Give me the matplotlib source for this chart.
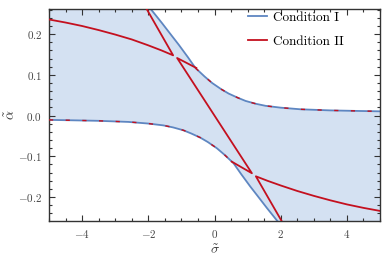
import numpy as np
import matplotlib
matplotlib.use('Agg')
import matplotlib.pyplot as plt
from matplotlib.ticker import MultipleLocator

plt.rcParams['font.family'] = 'serif'
plt.rcParams['font.serif'] = ['cmr10']
plt.rcParams['mathtext.fontset'] = 'cm'
plt.rcParams['axes.unicode_minus'] = False

# Condition I boundary, upper branch (sigma, alpha)
sig_c1_up = [-2.10, -1.94, -1.585, -1.30, -1.08, -0.80, -0.576, -0.30, -0.07, 0.20,
             0.43, 0.70, 0.94, 1.25, 1.545, 2.00, 2.60, 3.50, 4.30, 5.00]
alp_c1_up = [0.279, 0.263, 0.227, 0.197, 0.174, 0.143, 0.117, 0.096, 0.080, 0.065,
             0.054, 0.044, 0.036, 0.029, 0.024, 0.0195, 0.0155, 0.0128, 0.0115, 0.0105]

# Condition I boundary, lower branch
sig_c1_lo = [-5.00, -4.30, -3.50, -2.60, -2.00, -1.545, -1.25, -0.94, -0.70, -0.43,
             -0.20, 0.07, 0.30, 0.576, 0.80, 1.08, 1.30, 1.585, 1.94, 2.10]
alp_c1_lo = [-0.0105, -0.0115, -0.0128, -0.0155, -0.0195, -0.024, -0.029, -0.036, -0.044, -0.054,
             -0.065, -0.080, -0.096, -0.117, -0.143, -0.174, -0.197, -0.227, -0.263, -0.279]

# Condition II, upper-left curve ending in a cusp and going back up
sig_c2_a = [-5.0, -4.5, -4.0, -3.5, -3.0, -2.5, -2.0, -1.6, -1.25, -2.15]
alp_c2_a = [0.236, 0.2285, 0.220, 0.210, 0.199, 0.187, 0.1725, 0.160, 0.148, 0.276]

# Condition II, middle branch (joins the Condition I curves)
sig_c2_b = [-0.55, -1.13, 1.13, 0.52]
alp_c2_b = [0.117, 0.1415, -0.1415, -0.113]

# Condition II, lower-right curve
sig_c2_c = [5.0, 4.5, 4.0, 3.5, 3.0, 2.5, 2.0, 1.6, 1.25, 2.15]
alp_c2_c = [-0.234, -0.2265, -0.218, -0.208, -0.197, -0.185, -0.1715, -0.160, -0.149, -0.276]

xticks = [-4, -2, 0, 2, 4]
xticklabels = ['$-4$', '$-2$', '$0$', '$2$', '$4$']
yticks = [-0.2, -0.1, 0.0, 0.1, 0.2]
yticklabels = ['$-0.2$', '$-0.1$', '$0.0$', '$0.1$', '$0.2$']

blue = '#5e86c1'
red = '#c4101f'
fill = '#d4e1f2'

fig = plt.figure(figsize=(3.9, 2.71), dpi=100)
ax = fig.add_axes([49 / 390, 1 - 220.7 / 271, 331 / 390, 211.4 / 271])

# shaded region between the two Condition I curves
poly_x = [-5.0] + sig_c1_up + [5.0] + sig_c1_lo[::-1]
poly_y = [0.3] + alp_c1_up + [-0.3] + alp_c1_lo[::-1]
ax.fill(poly_x, poly_y, color=fill, lw=0, zorder=1)

ax.plot(sig_c1_up, alp_c1_up, color=blue, lw=1.3, zorder=2, label='Condition I')
ax.plot(sig_c1_lo, alp_c1_lo, color=blue, lw=1.3, zorder=2)

ax.plot(sig_c2_a, alp_c2_a, color=red, lw=1.3, zorder=3, label='Condition II')
ax.plot(sig_c2_b, alp_c2_b, color=red, lw=1.3, zorder=3)
ax.plot(sig_c2_c, alp_c2_c, color=red, lw=1.3, zorder=3)

# Condition II lying on top of Condition I
up = np.array(sig_c1_up) >= -0.576
lo = np.array(sig_c1_lo) <= 0.576
ax.plot(np.array(sig_c1_up)[up], np.array(alp_c1_up)[up], color=red, lw=1.0,
        dashes=(3, 9), zorder=4)
ax.plot(np.array(sig_c1_lo)[lo], np.array(alp_c1_lo)[lo], color=red, lw=1.0,
        dashes=(3, 9), zorder=4)

ax.set_xlim(-5, 5)
ax.set_ylim(-0.258, 0.261)
ax.set_xticks(xticks)
ax.set_xticklabels(xticklabels)
ax.set_yticks(yticks)
ax.set_yticklabels(yticklabels)
ax.xaxis.set_minor_locator(MultipleLocator(0.5))
ax.yaxis.set_minor_locator(MultipleLocator(0.02))
ax.tick_params(which='both', direction='in', top=True, right=True,
               color='#333333', labelcolor='#444444', labelsize=8, width=0.8)
ax.tick_params(which='major', length=4, pad=5)
ax.tick_params(which='minor', length=2)
for s in ax.spines.values():
    s.set_color('#333333')
    s.set_linewidth(1.0)

ax.set_xlabel(r'$\tilde{\sigma}$', fontsize=10, color='#333333', labelpad=3)
ax.set_ylabel(r'$\tilde{\alpha}$', fontsize=10, color='#333333')
ax.yaxis.set_label_coords(-0.095, 0.5)

ax.legend(loc='upper left', bbox_to_anchor=(0.6, 0.99), frameon=False, fontsize=9.5,
          borderpad=0, borderaxespad=0, handlelength=1.45, handletextpad=0.45,
          labelspacing=0.9)

fig.savefig('out.png', dpi=100)
